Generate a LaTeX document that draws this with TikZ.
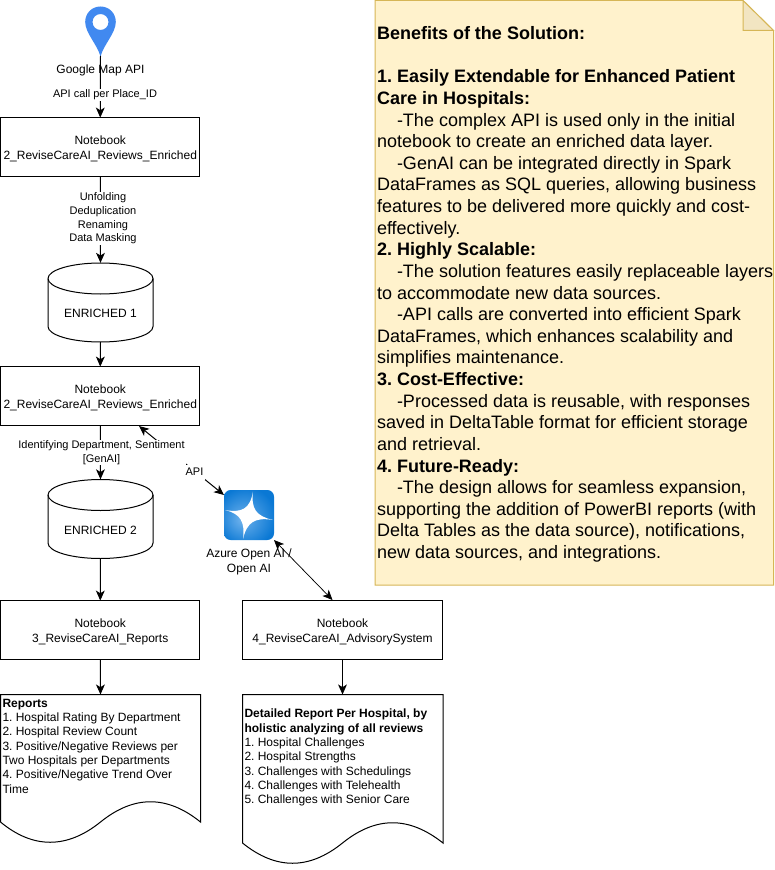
\documentclass[tikz,border=0pt]{standalone}
\usepackage{fontspec}
\setmainfont{Liberation Sans}
\usetikzlibrary{arrows.meta,calc}
\definecolor{notefill}{HTML}{FFF2CC}
\definecolor{notestroke}{HTML}{D6B656}
\definecolor{foldfill}{HTML}{F2E5C2}
\definecolor{pinblue}{HTML}{4189F0}
\definecolor{iconlight}{HTML}{6DB1EC}
\definecolor{icondark}{HTML}{0A78D4}
\pgfdeclareradialshading{iconrad}{\pgfpoint{-8bp}{-5bp}}{color(0bp)=(iconlight);color(30bp)=(icondark);color(50bp)=(icondark)}
\newcommand{\ind}{\hspace*{15pt}}
\newcommand{\nbtop}{\rule{0pt}{9pt}}
\tikzset{
  x=0.75pt,y=-0.75pt,
  every node/.style={font=\frenchspacing\fontsize{9pt}{11.2pt}\selectfont,text=black,inner sep=0pt,outer sep=0pt},
  tipped/.style={draw=black,line width=0.75pt,-{Stealth[length=7.5pt,width=6.6pt,inset=2pt]}},
  bitipped/.style={draw=black,line width=0.75pt,{Stealth[length=7.5pt,width=6.6pt,inset=2pt]}-{Stealth[length=7.5pt,width=6.6pt,inset=2pt]}},
  thintipped/.style={draw=black,line width=0.55pt,{Stealth[length=7.5pt,width=6.6pt,inset=2pt]}-{Stealth[length=7.5pt,width=6.6pt,inset=2pt]}},
  nbox/.style={draw=black,line width=0.75pt,fill=white,minimum width=149.5pt,minimum height=44.5pt,align=center},
  nboxb/.style={nbox,minimum width=150.5pt},
  cylnode/.style={minimum width=78.75pt,minimum height=59.5pt,align=center},
  outl/.style={draw=black,line width=0.75pt,fill=white},
  edgelabel/.style={fill=white,align=center,inner xsep=1pt,inner ysep=0.6pt},
  plainlabel/.style={align=center},
  doctext/.style={align=left,anchor=north west,font=\frenchspacing\fontsize{9pt}{10.75pt}\selectfont},
  notetext/.style={font=\frenchspacing\fontsize{13.5pt}{16.22pt}\selectfont,align=left,anchor=north west},
}
\begin{document}
\begin{tikzpicture}
\useasboundingbox (0,0) rectangle (774,870);
% note
\draw[draw=notestroke,fill=notefill,line width=0.75pt] (375,0.5) -- (743,0.5) -- (773.5,30.5) -- (773.5,585) -- (375,585) -- cycle;
\draw[draw=notestroke,fill=foldfill,line width=0.75pt] (743,0.5) -- (743,30.5) -- (773.5,30.5) -- cycle;
\node[notetext] (note) at (377,26.5) {\textbf{Benefits of the Solution:}\\[16.22pt]
\textbf{1. Easily Extendable for Enhanced Patient}\\
\textbf{Care in Hospitals:}\\
\ind -The complex API is used only in the initial\\
notebook to create an enriched data layer.\\
\ind -GenAI can be integrated directly in Spark\\
DataFrames as SQL queries, allowing business\\
features to be delivered more quickly and cost-\\
effectively.\\
\textbf{2. Highly Scalable:}\\
\ind -The solution features easily replaceable layers\\
to accommodate new data sources.\\
\ind -API calls are converted into efficient Spark\\
DataFrames, which enhances scalability and\\
simplifies maintenance.\\
\textbf{3. Cost-Effective:}\\
\ind -Processed data is reusable, with responses\\
saved in DeltaTable format for efficient storage\\
and retrieval.\\
\textbf{4. Future-Ready:}\\
\ind -The design allows for seamless expansion,\\
supporting the addition of PowerBI reports (with\\
Delta Tables as the data source), notifications,\\
new data sources, and integrations.};
% nodes
\node[nbox] (nb1) at (100.25,147.25) {\nbtop Notebook\\2\_ReviseCareAI\_Reviews\_Enriched};
\node[nbox] (nb2) at (100.25,396.25) {\nbtop Notebook\\2\_ReviseCareAI\_Reviews\_Enriched};
\node[nbox] (nb3) at (100.25,630.25) {\nbtop Notebook\\3\_ReviseCareAI\_Reports};
\node[nboxb] (nb4) at (342.5,630.25) {\nbtop Notebook\\4\_ReviseCareAI\_AdvisorySystem};
\coordinate (pintip) at (100.5,56);
\coordinate (apitarget) at (139,426);
\coordinate (nb4top) at (332.5,600);
% cylinders
\foreach \n/\top in {cyl1/262.5,cyl2/479}{
  \node[cylnode] (\n) at (100.5,\top+40) {};
  \draw[outl] (48,\top+16) -- (48,\top+64) arc[start angle=180,end angle=360,x radius=52.5,y radius=-15.5] -- (153,\top+16) arc[start angle=0,end angle=180,x radius=52.5,y radius=-15.5];
  \draw[draw=black,line width=0.75pt] (48,\top+16) arc[start angle=180,end angle=360,x radius=52.5,y radius=-15.5];
}
\node at (100.5,313.5) (c1t) {ENRICHED 1};
\node at (100.5,530.5) (c2t) {ENRICHED 2};
% documents
\draw[outl] (0.5,694.5) -- (200.5,694.5) -- (200.5,822) .. controls (167,795) and (134,795) .. (100.5,822) .. controls (67,849) and (33,849) .. (0.5,822) -- cycle;
\draw[outl] (242.5,694.5) -- (443,694.5) -- (443,843) .. controls (409,816) and (376,816) .. (342.5,843) .. controls (309,870) and (276,870) .. (242.5,843) -- cycle;
\coordinate (doc1top) at (100.5,694.5);
\coordinate (doc2top) at (342.5,694.5);
\node[doctext] (doc1) at (2.5,699) {\textbf{Reports}\\1. Hospital Rating By Department\\2. Hospital Review Count\\3. Positive/Negative Reviews per\\Two Hospitals per Departments\\4. Positive/Negative Trend Over\\Time};
\node[doctext] (doc2) at (244.5,709) {\textbf{Detailed Report Per Hospital, by}\\\textbf{holistic analyzing of all reviews}\\1. Hospital Challenges\\2. Hospital Strengths\\3. Challenges with Schedulings\\4. Challenges with Telehealth\\5. Challenges with Senior Care};
% pin
\fill[pinblue,even odd rule] (100.5,56.5) .. controls (97,44) and (85.2,33) .. (85.2,22) .. controls (85.2,13) and (92,6.5) .. (100.5,6.5) .. controls (109,6.5) and (115.8,13) .. (115.8,22) .. controls (115.8,33) and (104,44) .. (100.5,56.5) -- cycle (100.5,22) circle[x radius=8,y radius=8];
% icon
\path[rounded corners=5pt,shading=iconrad] (224,490) rectangle (274,540);
\fill[white] (253,491.5) .. controls (251,509) and (256,516) .. (273,520) .. controls (255,517) and (247,522) .. (243,539) .. controls (245,522) and (241,514) .. (225,510) .. controls (242,513) and (250,509) .. (253,491.5) -- cycle;
\coordinate (iconul) at (224,495);
\coordinate (iconlr) at (274,540);
% connectors
\draw[tipped] (pintip) -- (nb1.north);
\draw[tipped] (nb1.south) -- (cyl1.north);
\draw[tipped] (cyl1.south) -- (nb2.north);
\draw[bitipped] (apitarget) -- (iconul);
\draw[tipped] (nb2.south) -- (cyl2.north);
\draw[tipped] (cyl2.south) -- (nb3.north);
\draw[thintipped] (iconlr) -- (nb4top);
\draw[tipped] (nb3.south) -- (doc1top);
\draw[tipped] (nb4.south) -- (doc2top);
% labels
\node[plainlabel] (lgm) at (100.5,70) {Google Map API};
\node[plainlabel] (laz) at (249,561.5) {Azure Open AI /\\Open AI};
\node[edgelabel,font=\frenchspacing\fontsize{8.25pt}{10pt}\selectfont] (l1) at (105,95) {API call per Place\_ID};
\node[edgelabel,font=\frenchspacing\fontsize{8.25pt}{10.2pt}\selectfont] (l2) at (103,218.5) {Unfolding\\Deduplication\\Renaming\\Data Masking};
\node[edgelabel,font=\frenchspacing\fontsize{8.25pt}{10.4pt}\selectfont] (l3) at (101.5,452.5) {Identifying Department, Sentiment\\{}[GenAI]};
\node[edgelabel,minimum height=11.25pt,minimum width=13.5pt,font=\frenchspacing\fontsize{8.25pt}{10.4pt}\selectfont] (l4) at (194.5,472) {API};
\end{tikzpicture}
\end{document}
